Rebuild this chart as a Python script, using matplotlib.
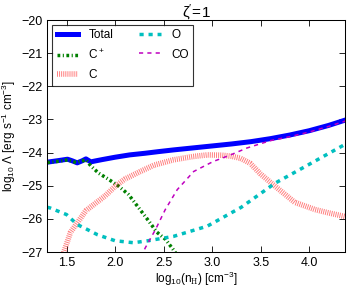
import matplotlib
matplotlib.use('Agg')
import matplotlib.pyplot as plt

plt.rcParams['font.family'] = ['Liberation Sans', 'DejaVu Sans']
plt.rcParams['mathtext.fontset'] = 'cm'
plt.rcParams['mathtext.default'] = 'regular'
plt.rcParams['lines.scale_dashes'] = False

# log10(nH) vs log10(Lambda)
tot_x = [1.3, 1.42, 1.51, 1.56, 1.61, 1.66, 1.70, 1.75, 1.8, 1.87, 2.0, 2.15, 2.31, 2.45,
         2.6, 2.8, 3.0, 3.2, 3.4, 3.6, 3.8, 4.0, 4.2, 4.37]
tot_y = [-24.29, -24.24, -24.2, -24.25, -24.31, -24.25, -24.19, -24.28, -24.25, -24.21,
         -24.14, -24.07, -24.02, -23.97, -23.92, -23.86, -23.8, -23.74, -23.67, -23.58,
         -23.47, -23.34, -23.18, -23.02]

cp_x = [1.3, 1.42, 1.51, 1.6, 1.7, 1.75, 1.83, 1.93, 2.04, 2.14, 2.33, 2.43, 2.52, 2.6, 2.64]
cp_y = [-24.3, -24.26, -24.22, -24.3, -24.22, -24.4, -24.62, -24.8, -25.02, -25.27, -26.0,
        -26.4, -26.62, -26.93, -27.1]

c_x = [1.45, 1.54, 1.7, 1.9, 2.0, 2.1, 2.26, 2.4, 2.6, 2.8, 2.95, 3.1, 3.2, 3.29, 3.39,
       3.5, 3.65, 3.85, 4.06, 4.2, 4.37]
c_y = [-27.2, -26.41, -25.75, -25.3, -25.02, -24.8, -24.57, -24.38, -24.22, -24.12,
       -24.07, -24.08, -24.11, -24.17, -24.32, -24.65, -25.02, -25.5, -25.72, -25.82, -25.93]

o_x = [1.3, 1.33, 1.5, 1.61, 1.72, 1.82, 2.0, 2.19, 2.34, 2.6, 2.95, 3.3, 3.65, 3.99, 4.37]
o_y = [-25.65, -25.67, -25.87, -26.17, -26.33, -26.48, -26.66, -26.72, -26.66, -26.53,
       -26.22, -25.65, -24.92, -24.37, -23.75]

co_x = [2.27, 2.31, 2.415, 2.517, 2.64, 2.81, 3.01, 3.19, 3.36, 3.6, 3.8, 4.0, 4.2, 4.37]
co_y = [-27.15, -26.88, -26.33, -25.72, -25.12, -24.57, -24.27, -24.07, -23.86, -23.64,
        -23.52, -23.38, -23.21, -23.05]

fig = plt.figure(figsize=(3.49, 2.90), dpi=100)
ax = fig.add_axes([0.135, 0.131, 0.854, 0.8])

ax.plot(tot_x, tot_y, color='b', lw=3.6, label='Total')
ax.plot(cp_x, cp_y, color='g', lw=2.5, dashes=(2, 1.8, 0.8, 1.8), label='C$^+$')
ax.plot(c_x, c_y, color='r', lw=4, dashes=(0.7, 0.8), alpha=0.5, label='C')
ax.plot(o_x, o_y, color='c', lw=2.5, dashes=(3, 3.5), label='O')
ax.plot(co_x, co_y, color='m', lw=1.1, dashes=(3, 3), label='CO')

ax.set_xlim(1.3, 4.37)
ax.set_ylim(-27, -20)
ax.set_xticks([1.5, 2.0, 2.5, 3.0, 3.5, 4.0])
ax.set_yticks([-27, -26, -25, -24, -23, -22, -21, -20])
ax.tick_params(direction='in', top=True, right=True, labelsize=9, length=4, width=0.6)
for s in ax.spines.values():
    s.set_linewidth(0.75)

ax.set_xlabel('log$_{10}$(n$_{\\rm H}$) [cm$^{-3}$]', fontsize=8.5, labelpad=1)
ax.set_ylabel('log$_{10}$ $\\Lambda$ [erg s$^{-1}$ cm$^{-3}$]', fontsize=8.5, labelpad=2)
ax.set_title("$\\zeta^{\\prime}\\!=\\!1$", fontsize=11, pad=2)

leg = ax.legend(loc='upper left', ncol=2, fontsize=8.5, fancybox=False, frameon=True,
                handlelength=1.8, handletextpad=0.9, columnspacing=2.2, borderaxespad=0.4,
                labelspacing=0.6)
leg.get_frame().set_edgecolor('k')
leg.get_frame().set_linewidth(0.8)

fig.savefig('out.png', dpi=100)
